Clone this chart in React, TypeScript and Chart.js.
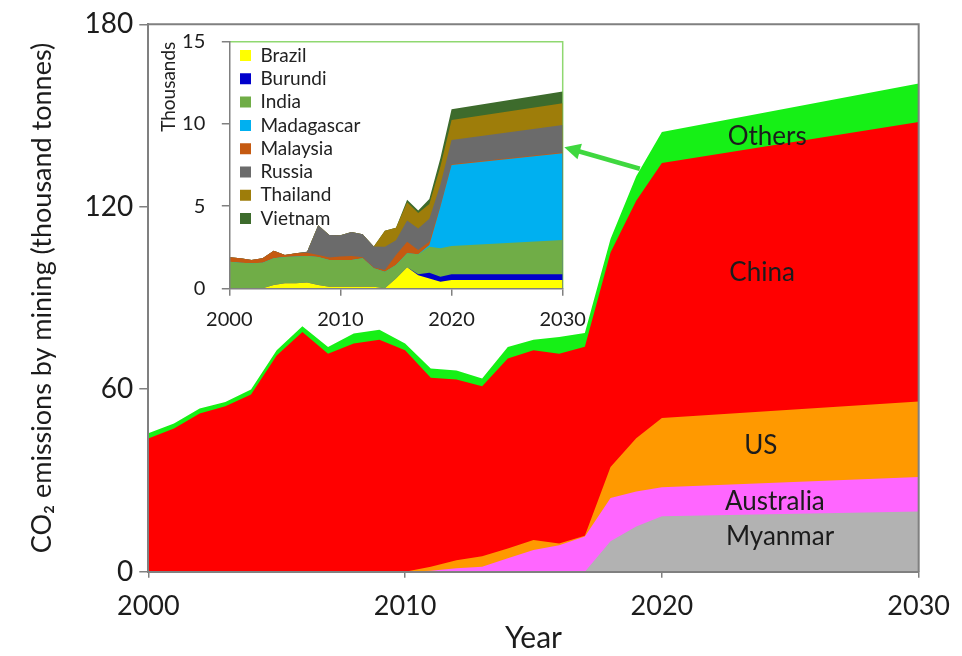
import React, { useEffect, useRef } from "react";
import { Chart, registerables } from "chart.js";

Chart.register(...registerables);

// ---------- Data ----------
const years = [2000, 2001, 2002, 2003, 2004, 2005, 2006, 2007, 2008, 2009, 2010, 2011, 2012, 2013, 2014, 2015, 2016, 2017, 2018, 2019, 2020, 2030];

// Main chart (thousand tonnes)
const myanmar = [0, 0, 0, 0, 0, 0, 0, 0, 0, 0, 0, 0, 0, 0, 0, 0, 0, 0, 10.0, 14.9, 18.2, 19.8];
const australia = [0, 0, 0, 0, 0, 0, 0, 0, 0, 0, 0, 0.3, 1.1, 1.6, 4.4, 7.1, 8.7, 11.6, 14.2, 11.5, 9.6, 11.3];
const us = [0, 0, 0, 0, 0, 0, 0, 0, 0, 0, 0, 1.3, 2.7, 3.5, 3.2, 3.3, 0.6, 0.2, 10.2, 17.5, 22.7, 24.9];
const china = [43.8, 47.1, 52.0, 54.4, 58.3, 71.1, 78.8, 71.7, 75.0, 76.3, 72.8, 62.2, 59.4, 55.9, 62.5, 62.4, 62.4, 62.2, 70.6, 78.1, 83.9, 91.9];
const others = [1.7, 1.6, 1.7, 1.4, 1.6, 1.7, 1.9, 2.2, 3.3, 3.3, 2.2, 3.0, 3.0, 2.5, 3.8, 3.5, 5.5, 4.5, 4.4, 8.0, 10.2, 12.6];

// Inset chart (thousands)
const brazil = [0, 0, 0, 0, 0.2, 0.3, 0.3, 0.35, 0.2, 0.1, 0.1, 0.1, 0.1, 0.1, 0, 0.6, 1.28, 0.8, 0.6, 0.4, 0.5, 0.5];
const burundi = [0, 0, 0, 0, 0, 0, 0, 0, 0, 0, 0, 0, 0, 0, 0, 0, 0, 0.05, 0.35, 0.3, 0.35, 0.35];
const india = [1.62, 1.56, 1.52, 1.56, 1.63, 1.6, 1.63, 1.62, 1.7, 1.62, 1.62, 1.62, 1.73, 1.12, 1.01, 0.82, 0.85, 1.22, 1.58, 1.73, 1.72, 2.09];
const madagascar = [0, 0, 0, 0, 0, 0, 0, 0, 0, 0, 0, 0, 0, 0, 0, 0, 0, 0, 0.1, 2.54, 4.93, 5.27];
const malaysia = [0.27, 0.27, 0.2, 0.27, 0.46, 0.13, 0.2, 0.2, 0.13, 0.15, 0.21, 0.25, 0.06, 0.05, 0.1, 0.6, 0.7, 0.26, 0.2, 0.05, 0.05, 0.05];
const russia = [0, 0, 0, 0, 0, 0, 0, 0.05, 1.8, 1.37, 1.3, 1.46, 1.4, 1.27, 1.42, 0.9, 1.3, 1.3, 1.4, 1.3, 1.47, 1.68];
const thailand = [0, 0, 0, 0, 0, 0, 0, 0, 0, 0, 0, 0, 0, 0, 0.97, 0.76, 1.1, 0.95, 0.9, 1.1, 1.22, 1.32];
const vietnam = [0, 0, 0, 0, 0, 0, 0, 0, 0, 0, 0, 0, 0, 0, 0, 0, 0.15, 0.15, 0.3, 0.5, 0.65, 0.71];

const mainTicksY = [0, 60, 120, 180];
const insetTicksY = [0, 5, 10, 15];
const xTicks = [2000, 2010, 2020, 2030];

// Region labels placed in data coordinates
const regionLabels = [
  { text: "Others", year: 2024.1, value: 143.1 },
  { text: "China", year: 2023.9, value: 98.4 },
  { text: "US", year: 2023.85, value: 41.6 },
  { text: "Australia", year: 2024.4, value: 23.1 },
  { text: "Myanmar", year: 2024.6, value: 11.5 },
];
const arrowFrom = { year: 2019.14, value: 132.5 };
const arrowTo = { year: 2016.2, value: 139.6 };

const FONT = 'Lato, "DejaVu Sans", sans-serif';
const AXIS = "#808080";
const TEXT = "#1c1c1c";

const toPts = (vals: number[]) => years.map((x, i) => ({ x, y: vals[i] }));

const mainSeries = [
  { name: "Myanmar", values: myanmar, color: "#b2b2b2" },
  { name: "Australia", values: australia, color: "#ff66ff" },
  { name: "US", values: us, color: "#ff9900" },
  { name: "China", values: china, color: "#ff0000" },
  { name: "Others", values: others, color: "#16f016" },
];

const insetSeries = [
  { name: "Brazil", values: brazil, color: "#ffff00" },
  { name: "Burundi", values: burundi, color: "#0000cc" },
  { name: "India", values: india, color: "#70ad47" },
  { name: "Madagascar", values: madagascar, color: "#00b0f0" },
  { name: "Malaysia", values: malaysia, color: "#c55a11" },
  { name: "Russia", values: russia, color: "#6b6b6b" },
  { name: "Thailand", values: thailand, color: "#9e7d0a" },
  { name: "Vietnam", values: vietnam, color: "#3d6b2c" },
];

const makeDatasets = (series: { name: string; values: number[]; color: string }[]) =>
  series.map((s) => ({
    label: s.name,
    data: toPts(s.values),
    backgroundColor: s.color,
    borderColor: "rgba(0,0,0,0)",
    borderWidth: 0,
    pointRadius: 0,
    pointHoverRadius: 0,
    fill: "origin",
    tension: 0,
  }));

const mainPlugin = {
  id: "mainDecor",
  afterDraw(chart: any) {
    const { ctx, chartArea: a, scales } = chart;
    const x = scales.x;
    const y = scales.y;
    ctx.save();
    // top and right frame
    ctx.strokeStyle = AXIS;
    ctx.lineWidth = 2;
    ctx.beginPath();
    ctx.moveTo(a.left, a.top);
    ctx.lineTo(a.right, a.top);
    ctx.lineTo(a.right, a.bottom);
    ctx.stroke();
    // region labels
    ctx.font = `26px ${FONT}`;
    ctx.fillStyle = TEXT;
    ctx.textAlign = "center";
    ctx.textBaseline = "middle";
    for (const l of regionLabels) {
      ctx.fillText(l.text, x.getPixelForValue(l.year), y.getPixelForValue(l.value));
    }
    // arrow
    const x0 = x.getPixelForValue(arrowFrom.year);
    const y0 = y.getPixelForValue(arrowFrom.value);
    const x1 = x.getPixelForValue(arrowTo.year);
    const y1 = y.getPixelForValue(arrowTo.value);
    const dx = x1 - x0;
    const dy = y1 - y0;
    const len = Math.hypot(dx, dy);
    const ux = dx / len;
    const uy = dy / len;
    const headLen = 16;
    const headW = 8;
    const bx = x1 - ux * headLen;
    const by = y1 - uy * headLen;
    ctx.strokeStyle = "#3fd83f";
    ctx.fillStyle = "#3fd83f";
    ctx.lineWidth = 4.5;
    ctx.beginPath();
    ctx.moveTo(x0, y0);
    ctx.lineTo(bx + ux * 2, by + uy * 2);
    ctx.stroke();
    ctx.beginPath();
    ctx.moveTo(x1, y1);
    ctx.lineTo(bx - uy * headW, by + ux * headW);
    ctx.lineTo(bx + uy * headW, by - ux * headW);
    ctx.closePath();
    ctx.fill();
    ctx.restore();
  },
};

const insetPlugin = {
  id: "insetDecor",
  afterLayout(chart: any) {
    const lg = chart.legend;
    const a = chart.chartArea;
    if (lg && a) {
      const w = lg.width;
      const h = lg.height;
      lg.left = a.left + 6.4;
      lg.right = lg.left + w;
      lg.top = a.top;
      lg.bottom = lg.top + h;
    }
  },
  beforeDatasetsDraw(chart: any) {
    const { ctx, chartArea: a } = chart;
    ctx.save();
    ctx.strokeStyle = "#8fd870";
    ctx.lineWidth = 1.5;
    ctx.beginPath();
    ctx.moveTo(a.left, a.top);
    ctx.lineTo(a.right, a.top);
    ctx.lineTo(a.right, a.bottom);
    ctx.stroke();
    ctx.restore();
  },
};

export default function App() {
  const mainRef = useRef<HTMLCanvasElement | null>(null);
  const insetRef = useRef<HTMLCanvasElement | null>(null);

  useEffect(() => {
    if (!mainRef.current || !insetRef.current) return;

    const main = new Chart(mainRef.current, {
      type: "line",
      data: { datasets: makeDatasets(mainSeries) as any },
      options: {
        responsive: false,
        animation: false,
        devicePixelRatio: 1,
        layout: { padding: { left: 0, top: 24.3, right: 38, bottom: 0 } },
        plugins: { legend: { display: false }, tooltip: { enabled: false } },
        scales: {
          x: {
            type: "linear",
            min: 2000,
            max: 2030,
            afterFit: (s: any) => {
              s.height = 84.3;
            },
            afterBuildTicks: (s: any) => {
              s.ticks = xTicks.map((v) => ({ value: v }));
            },
            ticks: {
              callback: (v: any) => String(v),
              font: { family: FONT, size: 27 },
              color: TEXT,
              padding: 12,
              maxRotation: 0,
              autoSkip: false,
            },
            grid: { drawOnChartArea: false, drawTicks: true, tickLength: 6, color: AXIS, lineWidth: 1.5 },
            border: { display: true, color: AXIS, width: 2, z: 1 },
            title: {
              display: true,
              text: "Year",
              font: { family: FONT, size: 30 },
              color: TEXT,
              padding: { top: 0, bottom: 0 },
            },
          },
          y: {
            type: "linear",
            stacked: true,
            min: 0,
            max: 180,
            afterFit: (s: any) => {
              s.width = 148.3;
            },
            afterBuildTicks: (s: any) => {
              s.ticks = mainTicksY.map((v) => ({ value: v }));
            },
            ticks: {
              callback: (v: any) => String(v),
              font: { family: FONT, size: 28 },
              color: TEXT,
              padding: 6,
            },
            grid: { drawOnChartArea: false, drawTicks: true, tickLength: 9, color: AXIS, lineWidth: 1.5 },
            border: { display: true, color: AXIS, width: 2, z: 1 },
            title: {
              display: true,
              text: "CO₂ emissions by mining (thousand tonnes)",
              font: { family: FONT, size: 27 },
              color: TEXT,
              padding: { top: 25.8, bottom: 0 },
            },
          },
        },
      } as any,
      plugins: [mainPlugin],
    });

    const inset = new Chart(insetRef.current, {
      type: "line",
      data: { datasets: makeDatasets(insetSeries) as any },
      options: {
        responsive: false,
        animation: false,
        devicePixelRatio: 1,
        layout: { padding: { left: 150, top: 41.7, right: 399.3, bottom: 0 } },
        plugins: {
          tooltip: { enabled: false },
          legend: {
            display: true,
            position: "chartArea",
            align: "start",
            labels: {
              boxWidth: 11,
              boxHeight: 11,
              padding: 4.3,
              color: "#222",
              font: { family: FONT, size: 19 },
            },
          },
        },
        scales: {
          x: {
            type: "linear",
            min: 2000,
            max: 2030,
            afterFit: (s: any) => {
              s.height = 656 - 288.3;
            },
            afterBuildTicks: (s: any) => {
              s.ticks = xTicks.map((v) => ({ value: v }));
            },
            ticks: {
              callback: (v: any) => String(v),
              font: { family: FONT, size: 20 },
              color: TEXT,
              padding: 12,
              maxRotation: 0,
              autoSkip: false,
            },
            grid: { drawOnChartArea: false, drawTicks: true, tickLength: 7.5, color: AXIS, lineWidth: 1.5 },
            border: { display: true, color: AXIS, width: 1.5, z: 1 },
          },
          y: {
            type: "linear",
            stacked: true,
            min: 0,
            max: 15,
            afterFit: (s: any) => {
              s.width = 79.3;
            },
            afterBuildTicks: (s: any) => {
              s.ticks = insetTicksY.map((v) => ({ value: v }));
            },
            ticks: {
              callback: (v: any) => String(v),
              font: { family: FONT, size: 20 },
              color: TEXT,
              padding: 16.5,
            },
            grid: { drawOnChartArea: false, drawTicks: true, tickLength: 7.5, color: AXIS, lineWidth: 1.5 },
            border: { display: true, color: AXIS, width: 1.5, z: 1 },
            title: {
              display: true,
              text: "Thousands",
              align: "end",
              font: { family: FONT, size: 19 },
              color: "#222",
              padding: { top: 7.1, bottom: 0 },
            },
          },
        },
      } as any,
      plugins: [insetPlugin],
    });

    return () => {
      main.destroy();
      inset.destroy();
    };
  }, []);

  return (
    <div style={{ position: "fixed", left: 0, top: 0, width: 962, height: 656, background: "#fff" }}>
      <canvas ref={mainRef} width={962} height={656} style={{ position: "absolute", left: 0, top: 0 }} />
      <canvas
        ref={insetRef}
        width={962}
        height={656}
        style={{ position: "absolute", left: 0, top: 0, pointerEvents: "none" }}
      />
    </div>
  );
}
